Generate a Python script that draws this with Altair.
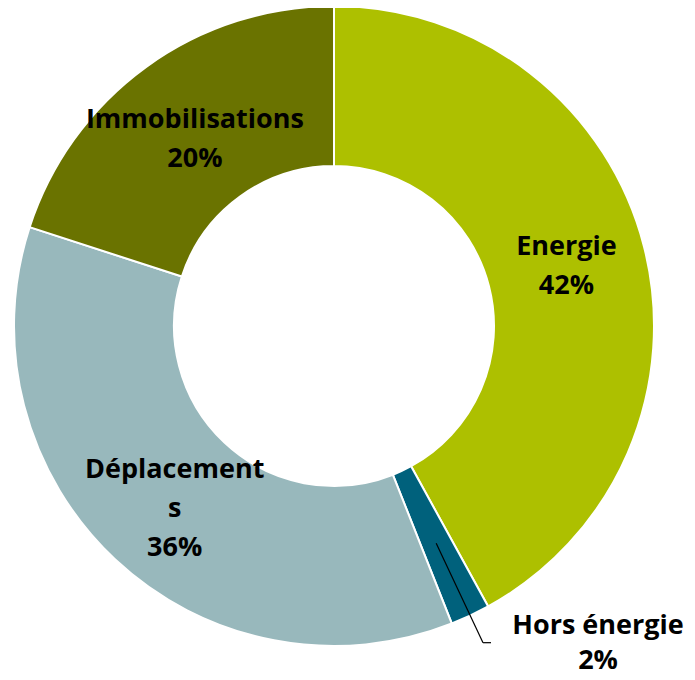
import math
import altair as alt
import pandas as pd

categories = ["Energie", "Hors énergie", "Déplacements", "Immobilisations"]
values = [42, 2, 36, 20]
labels = ["Energie\n42%", "", "Déplacement\ns\n36%", "Immobilisations\n20%"]
outer_label = ["Hors énergie", "2%"]
colors = ["#ADC000", "#00617C", "#98B8BC", "#6A7300"]

df = pd.DataFrame({
    "cat": categories,
    "value": values,
    "label": labels,
    "order": list(range(len(categories))),
})

W, H = 679, 664
CX, CY = 326, 318
R_OUT, R_IN = 320, 160
FONT = "Open Sans"
FS = 27
LH = 39

base = alt.Chart(df).encode(
    theta=alt.Theta("value:Q", stack=True),
    order=alt.Order("order:Q"),
    x=alt.value(CX),
    y=alt.value(CY),
)

arcs = base.mark_arc(outerRadius=R_OUT, innerRadius=R_IN, stroke="white", strokeWidth=2).encode(
    color=alt.Color("cat:N", scale=alt.Scale(domain=categories, range=colors), legend=None)
)


def label_layer(cat, dx, dy):
    return base.mark_text(
        radius=240, fontSize=FS, fontWeight="bold", font=FONT, lineBreak="\n",
        lineHeight=LH, color="black", dx=dx, dy=dy
    ).encode(
        text=alt.condition(alt.datum.cat == cat, "label:N", alt.value(""))
    )


text_layers = [
    label_layer("Energie", 0, -19),
    label_layer("Déplacements", 5, -31),
    label_layer("Immobilisations", 2, -12),
]

# leader line for the small slice, computed from the data
total = sum(values)
idx = categories.index("Hors énergie")
mid = (sum(values[:idx]) + values[idx] / 2) / total * 2 * math.pi
r1, r2 = 240, 350
x1, y1 = CX + r1 * math.sin(mid), CY - r1 * math.cos(mid)
x2, y2 = CX + r2 * math.sin(mid), CY - r2 * math.cos(mid)
x3 = x2 + 8

leader_df = pd.DataFrame({"a": [0]})
seg1 = alt.Chart(leader_df).mark_rule(color="black", strokeWidth=1.2).encode(
    x=alt.value(x1), y=alt.value(y1), x2=alt.value(x2), y2=alt.value(y2))
seg2 = alt.Chart(leader_df).mark_rule(color="black", strokeWidth=1.2).encode(
    x=alt.value(x2), y=alt.value(y2), x2=alt.value(x3), y2=alt.value(y2))

outer_df = pd.DataFrame({"t": ["\n".join(outer_label)]})
outer_text = alt.Chart(outer_df).mark_text(
    fontSize=FS, fontWeight="bold", font=FONT, lineBreak="\n", lineHeight=35,
    color="black", align="center", baseline="middle"
).encode(text="t:N", x=alt.value(x3 + 107), y=alt.value(y2 - 17))

chart = alt.layer(arcs, *text_layers, seg1, seg2, outer_text).properties(
    width=W, height=H, padding=0, autosize=alt.AutoSizeParams(type="none")
).configure_view(stroke=None)

chart.save("out.html", embed_options={"renderer": "svg", "actions": False})
